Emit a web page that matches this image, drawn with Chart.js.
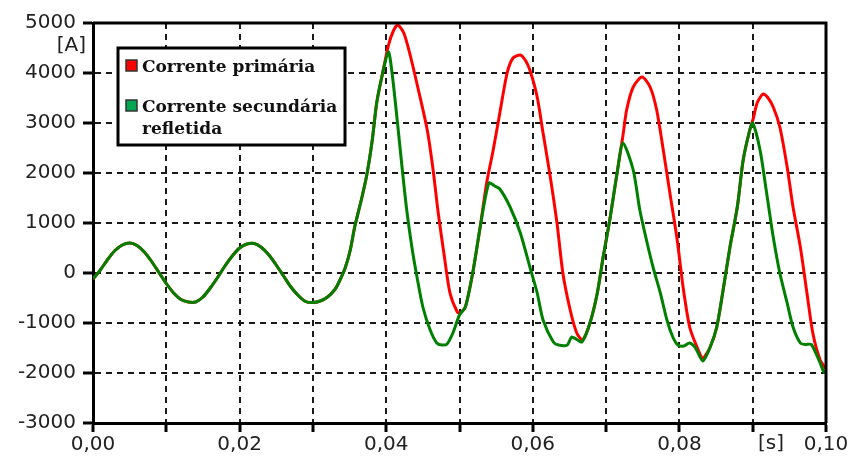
<!DOCTYPE html>
<html>
<head>
<meta charset="utf-8">
<script src="https://cdn.jsdelivr.net/npm/chart.js@4.4.1/dist/chart.umd.min.js"></script>
<style>
  body { margin: 0; background: #fff; }
</style>
</head>
<body>
<canvas id="currentChart" width="853" height="463"></canvas>
<script>
// time axis in seconds, current in amperes
const primaryTime = [
  0.000, 0.001, 0.002, 0.003, 0.004, 0.005, 0.006, 0.007, 0.008, 0.009,
  0.010, 0.011, 0.012, 0.013, 0.014, 0.015, 0.016, 0.017, 0.018, 0.019,
  0.020, 0.021, 0.022, 0.023, 0.024, 0.025, 0.026, 0.027, 0.028, 0.029,
  0.030, 0.031, 0.032, 0.033, 0.0335, 0.0344, 0.0351, 0.0357, 0.0367, 0.0374,
  0.0381, 0.0387, 0.0394, 0.0403, 0.0410, 0.0416, 0.0424, 0.0432, 0.0443, 0.0456,
  0.0464, 0.0471, 0.0480, 0.0487, 0.0497, 0.0501, 0.0508, 0.0518, 0.0528, 0.0537,
  0.0546, 0.0555, 0.0565, 0.0573, 0.0583, 0.0590, 0.0596, 0.0606, 0.0614, 0.0623,
  0.0633, 0.0641, 0.0651, 0.0660, 0.0668, 0.0678, 0.0688, 0.0696, 0.0705, 0.0715,
  0.0723, 0.0728, 0.0737, 0.0749, 0.0760, 0.0769, 0.0778, 0.0787, 0.0797, 0.0805,
  0.0814, 0.0824, 0.0832, 0.0842, 0.0851, 0.0859, 0.0869, 0.0879, 0.0887, 0.0896,
  0.0901, 0.0906, 0.0914, 0.0920, 0.0928, 0.0937, 0.0947, 0.0955, 0.0965, 0.0974,
  0.0982, 0.0992, 0.1000
];
const primaryCurrent = [
  -120, 60, 270, 450, 560, 600, 550, 420, 230, 10,
  -210, -400, -530, -580, -580, -480, -300, -90, 140, 340,
  500, 580, 590, 510, 360, 160, -60, -280, -450, -570,
  -590, -560, -480, -330, -200, 100, 460, 920, 1520, 2000,
  2660, 3400, 3920, 4550, 4850, 4960, 4800, 4400, 3720, 2860,
  2060, 1200, 260, -400, -780, -800, -680, 0, 900, 1800,
  2460, 3200, 4000, 4300, 4360, 4250, 4060, 3520, 2800, 2000,
  1000, 0, -740, -1200, -1340, -1000, -400, 320, 1060, 2000,
  2750, 3260, 3720, 3920, 3720, 3260, 2460, 1600, 660, -280,
  -1080, -1480, -1700, -1480, -1080, -400, 520, 1320, 2260, 2860,
  3100, 3400, 3580, 3520, 3320, 2920, 2120, 1320, 520, -400,
  -1200, -1740, -1920
];

const secondaryTime = [
  0.000, 0.001, 0.002, 0.003, 0.004, 0.005, 0.006, 0.007, 0.008, 0.009,
  0.010, 0.011, 0.012, 0.013, 0.014, 0.015, 0.016, 0.017, 0.018, 0.019,
  0.020, 0.021, 0.022, 0.023, 0.024, 0.025, 0.026, 0.027, 0.028, 0.029,
  0.030, 0.031, 0.032, 0.033, 0.0335, 0.0344, 0.0351, 0.0357, 0.0367, 0.0374,
  0.0381, 0.0387, 0.0394, 0.0403, 0.0408, 0.0415, 0.0422, 0.0428, 0.0435, 0.0442,
  0.0450, 0.0460, 0.0469, 0.0476, 0.0483, 0.0491, 0.0500, 0.0508, 0.0518, 0.0528,
  0.0540, 0.0548, 0.0555, 0.0569, 0.0583, 0.0596, 0.0606, 0.0614, 0.0628, 0.0635,
  0.0647, 0.0653, 0.0660, 0.0667, 0.0678, 0.0688, 0.0696, 0.0705, 0.0715, 0.0723,
  0.0737, 0.0746, 0.0756, 0.0764, 0.0774, 0.0783, 0.0791, 0.0798, 0.0806, 0.0814,
  0.0822, 0.0832, 0.0842, 0.0851, 0.0859, 0.0869, 0.0879, 0.0887, 0.0896, 0.0900,
  0.0910, 0.0919, 0.0928, 0.0937, 0.0947, 0.0955, 0.0965, 0.0972, 0.0980, 0.0992,
  0.0997, 0.1000
];
const secondaryCurrent = [
  -120, 60, 270, 450, 560, 600, 550, 420, 230, 10,
  -210, -400, -530, -580, -580, -480, -300, -90, 140, 340,
  500, 580, 590, 510, 360, 160, -60, -280, -450, -570,
  -590, -560, -480, -330, -200, 100, 460, 920, 1520, 2000,
  2660, 3400, 3920, 4420, 4000, 3060, 2060, 1260, 520, -80,
  -680, -1140, -1400, -1440, -1420, -1200, -840, -680, 0, 900,
  1800, 1740, 1680, 1320, 800, 120, -400, -940, -1380, -1440,
  -1440, -1280, -1330, -1380, -1000, -400, 320, 1060, 2000, 2600,
  2060, 1260, 600, 120, -400, -940, -1280, -1440, -1460, -1400,
  -1500, -1760, -1480, -1080, -400, 520, 1320, 2260, 2860, 3000,
  2460, 1600, 720, 0, -600, -1080, -1400, -1430, -1430, -1800,
  -1980, -1990
];

const seriesNames = ['Corrente primária', 'Corrente secundária refletida'];
const legendLines = [['Corrente primária'], ['Corrente secundária', 'refletida']];
const seriesColors = ['#ff0000', '#008000'];
const legendSwatch = ['#ff0000', '#00a651'];
const yUnit = '[A]';
const xUnit = '[s]';

function toPoints(times, values) {
  return times.map((t, i) => ({ x: t, y: values[i] }));
}

function formatComma(v, digits) {
  return v.toFixed(digits).replace('.', ',');
}

// legend box, axis unit labels and the closed frame around the plot
const framePlugin = {
  id: 'frame',
  afterDraw(chart) {
    const ctx = chart.ctx;
    const a = chart.chartArea;
    ctx.save();

    ctx.setLineDash([]);
    ctx.strokeStyle = '#000';
    ctx.lineWidth = 3;
    ctx.beginPath();
    ctx.moveTo(a.left, a.top);
    ctx.lineTo(a.right, a.top);
    ctx.lineTo(a.right, a.bottom);
    ctx.stroke();

    ctx.fillStyle = '#222';
    ctx.font = '20px "DejaVu Sans"';
    ctx.textBaseline = 'middle';
    ctx.textAlign = 'right';
    ctx.fillText(yUnit, a.left - 7, a.top + 23);
    ctx.textAlign = 'center';
    ctx.fillText(xUnit, a.left + 678, a.bottom + 21);

    // legend
    const bx = a.left + 25, by = a.top + 25, bw = 227, bh = 97;
    ctx.fillStyle = '#fff';
    ctx.fillRect(bx, by, bw, bh);
    ctx.lineWidth = 3;
    ctx.strokeStyle = '#000';
    ctx.strokeRect(bx, by, bw, bh);

    ctx.font = 'bold 17px "DejaVu Serif"';
    ctx.textAlign = 'left';
    ctx.textBaseline = 'alphabetic';
    const rowTop = [by + 12, by + 52];
    chart.data.datasets.forEach((ds, i) => {
      const y0 = rowTop[i];
      ctx.fillStyle = legendSwatch[i];
      ctx.fillRect(bx + 8, y0, 11, 11);
      ctx.lineWidth = 1.5;
      ctx.strokeStyle = '#333';
      ctx.strokeRect(bx + 8, y0, 11, 11);
      ctx.fillStyle = '#111';
      legendLines[i].forEach((line, k) => {
        ctx.fillText(line, bx + 24, y0 + 12 + k * 22);
      });
    });
    ctx.restore();
  }
};

const gridStyle = {
  color: '#1a1a1a',
  lineWidth: 2,
  tickWidth: 3,
  tickColor: '#000',
  tickBorderDash: []
};

const ctx = document.getElementById('currentChart').getContext('2d');
const currentChart = new Chart(ctx, {
  type: 'line',
  data: {
    datasets: [{
      label: seriesNames[0],
      data: toPoints(primaryTime, primaryCurrent),
      borderColor: seriesColors[0],
      borderWidth: 3,
      pointRadius: 0,
      tension: 0.25,
      order: 2
    }, {
      label: seriesNames[1],
      data: toPoints(secondaryTime, secondaryCurrent),
      borderColor: seriesColors[1],
      borderWidth: 3,
      pointRadius: 0,
      tension: 0.25,
      order: 1
    }]
  },
  options: {
    responsive: false,
    animation: false,
    layout: { padding: { top: 23, right: 27, left: 0, bottom: 0 } },
    plugins: {
      legend: { display: false },
      tooltip: { enabled: false }
    },
    scales: {
      x: {
        type: 'linear',
        min: 0,
        max: 0.1,
        afterFit: s => { s.height = 40; },
        border: { color: '#000', width: 3, dash: [6, 5] },
        grid: Object.assign({ tickLength: 9 }, gridStyle),
        ticks: {
          stepSize: 0.01,
          padding: 1,
          maxRotation: 0,
          autoSkip: false,
          color: '#222',
          font: { family: 'DejaVu Sans', size: 20 },
          callback: (v, i) => (i % 2 ? '' : formatComma(v, 2))
        }
      },
      y: {
        min: -3000,
        max: 5000,
        afterFit: s => { s.width = 93; },
        border: { color: '#000', width: 3, dash: [6, 5] },
        grid: Object.assign({ tickLength: 10 }, gridStyle),
        ticks: {
          stepSize: 1000,
          padding: 7,
          color: '#222',
          font: { family: 'DejaVu Sans', size: 20 },
          callback: v => String(v)
        }
      }
    }
  },
  plugins: [framePlugin]
});
</script>
</body>
</html>
